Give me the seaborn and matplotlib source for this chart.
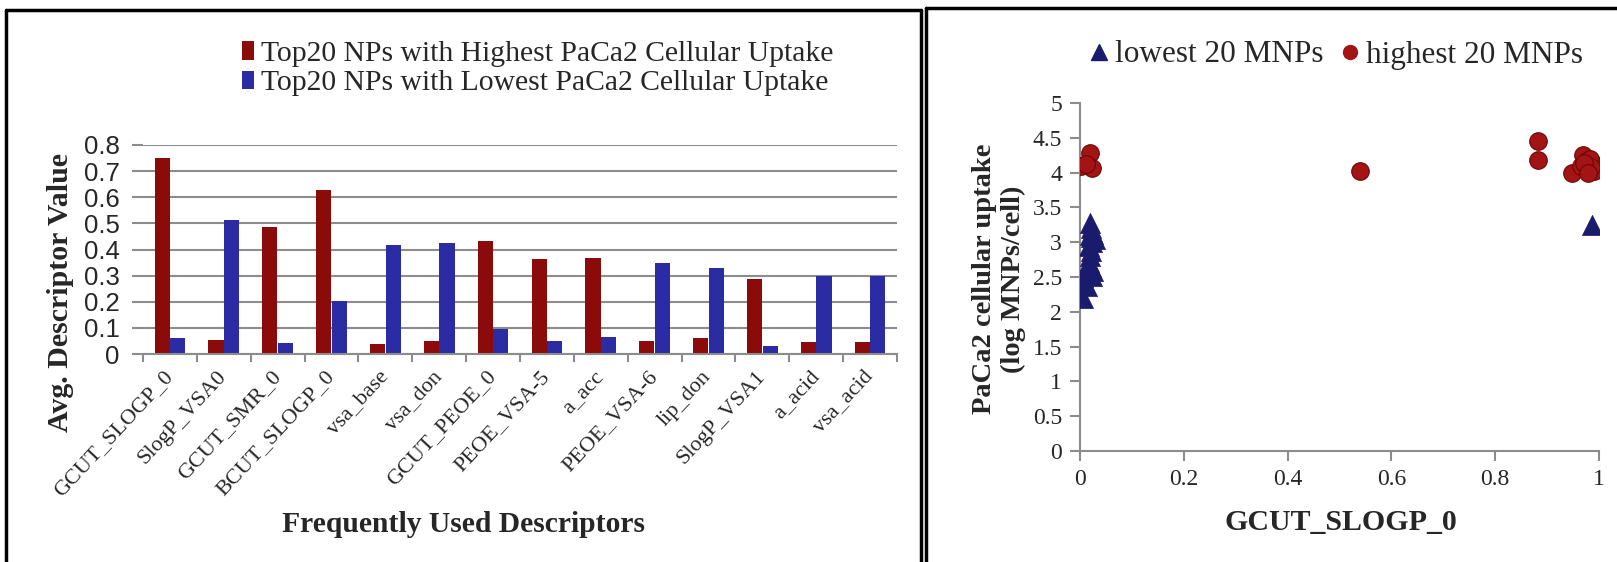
import numpy as np
import pandas as pd
import matplotlib
matplotlib.use("Agg")
import matplotlib.pyplot as plt
import seaborn as sns
from matplotlib.lines import Line2D
from matplotlib.patches import Patch
from matplotlib.ticker import FixedLocator

# ---------------- data ----------------
descriptors = ["GCUT_SLOGP_0", "SlogP_VSA0", "GCUT_SMR_0", "BCUT_SLOGP_0", "vsa_base",
               "vsa_don", "GCUT_PEOE_0", "PEOE_VSA-5", "a_acc", "PEOE_VSA-6",
               "lip_don", "SlogP_VSA1", "a_acid", "vsa_acid"]
highest_avg = [0.751, 0.055, 0.488, 0.629, 0.040, 0.049, 0.434, 0.363, 0.368, 0.049,
               0.061, 0.286, 0.045, 0.045]
lowest_avg = [0.062, 0.514, 0.042, 0.203, 0.419, 0.424, 0.096, 0.049, 0.064, 0.350,
              0.331, 0.032, 0.297, 0.297]
bar_series = ["Top20 NPs with Highest PaCa2 Cellular Uptake",
              "Top20 NPs with Lowest PaCa2 Cellular Uptake"]
bar_yticks = [0, 0.1, 0.2, 0.3, 0.4, 0.5, 0.6, 0.7, 0.8]
bar_yticklabels = ["0", "0.1", "0.2", "0.3", "0.4", "0.5", "0.6", "0.7", "0.8"]

scatter_series = ["lowest 20 MNPs", "highest 20 MNPs"]
low_x = [0.019, 0.021, 0.023, 0.025, 0.028, 0.020, 0.024, 0.022, 0.020, 0.018,
         0.021, 0.026, 0.024, 0.006, 0.013, 0.003, 0.006, 0.986, 0.022, 0.017]
low_y = [3.28, 3.20, 3.15, 3.12, 3.05, 3.10, 3.00, 2.88, 2.80, 2.72,
         2.65, 2.58, 2.52, 2.50, 2.37, 2.45, 2.20, 3.24, 3.08, 2.95]
high_x = [0.002, 0.019, 0.023, 0.012, 0.540, 0.883, 0.883, 0.948, 0.970, 0.995,
          0.980, 0.977, 0.986, 0.975, 0.982, 0.990, 0.965, 0.985, 0.972, 0.978]
high_y = [4.10, 4.28, 4.06, 4.12, 4.03, 4.45, 4.18, 3.99, 4.25, 4.11,
          4.06, 4.16, 4.13, 4.05, 4.20, 4.02, 4.10, 4.08, 4.14, 4.00]
sc_xticks = [0, 0.2, 0.4, 0.6, 0.8, 1.0]
sc_xticklabels = ["0", "0.2", "0.4", "0.6", "0.8", "1"]
sc_yticks = [0, 0.5, 1, 1.5, 2, 2.5, 3, 3.5, 4, 4.5, 5]
sc_yticklabels = ["0", "0.5", "1", "1.5", "2", "2.5", "3", "3.5", "4", "4.5", "5"]

# ---------------- style ----------------
RED = "#8B0A0A"
BLUE = "#2B2BA3"
NAVY = "#1B1B6E"
CRED = "#A31414"
GRAY = "#8C8C8C"
SERIF = "Liberation Serif"
SANS = "Liberation Sans"

sns.set_theme(style="white")
plt.rcParams["font.family"] = [SERIF, "DejaVu Serif"]

W, H = 1617, 562
fig = plt.figure(figsize=(W / 100, H / 100), dpi=100)


def fx(px):
    return px / W


def fy(py):
    return 1 - py / H


# ---------------- left: bar chart ----------------
axL = fig.add_axes([fx(143), fy(354), fx(897) - fx(143), fy(145) - fy(354)])
df = pd.DataFrame({
    "descriptor": descriptors * 2,
    "value": highest_avg + lowest_avg,
    "group": [bar_series[0]] * len(descriptors) + [bar_series[1]] * len(descriptors),
})
sns.barplot(data=df, x="descriptor", y="value", hue="group", hue_order=bar_series,
            palette=[RED, BLUE], saturation=1, width=0.58, gap=0.03,
            legend=False, ax=axL, errorbar=None, edgecolor="none")
axL.set_xlim(-0.5, len(descriptors) - 0.5)
axL.set_ylim(0, 0.8)
axL.set_yticks(bar_yticks)
axL.set_yticklabels(bar_yticklabels)
axL.tick_params(axis="y", labelsize=18.5, labelfontfamily=SANS)
axL.yaxis.grid(True, color=GRAY, lw=1.5)
axL.set_axisbelow(True)
for s in ["top", "right", "left"]:
    axL.spines[s].set_visible(False)
axL.spines["bottom"].set_color(GRAY)
axL.spines["bottom"].set_linewidth(1.5)
axL.tick_params(axis="y", length=8, width=1.5, color=GRAY, pad=9, left=True)
axL.set_xticks(range(len(descriptors)))
axL.set_xticklabels(descriptors, rotation=47, ha="right", va="center",
                    rotation_mode="anchor")
axL.tick_params(axis="x", which="major", length=0, pad=14, labelsize=16,
                labelfontfamily=SERIF)
axL.xaxis.set_minor_locator(FixedLocator(np.arange(-0.5, len(descriptors), 1.0)))
axL.tick_params(axis="x", which="minor", length=6, width=1.5, color=GRAY, bottom=True)
axL.set_xlabel("")
axL.set_ylabel("")

fig.text(fx(61), fy(292), "Avg. Descriptor Value", rotation=90, ha="center", va="center",
         fontsize=21.5, fontweight="bold", fontfamily=SERIF)
fig.text(fx(463), fy(524), "Frequently Used Descriptors", ha="center", va="center",
         fontsize=21.3, fontweight="bold", fontfamily=SERIF)

handlesL = [Patch(facecolor=RED, edgecolor="none"), Patch(facecolor=BLUE, edgecolor="none")]
fig.legend(handlesL, bar_series, loc="upper left", bbox_to_anchor=(fx(230), fy(29)),
           frameon=False, prop={"family": SERIF, "size": 21.3}, handlelength=0.4,
           handleheight=0.6, handletextpad=0.25, labelspacing=0.12, borderaxespad=0)

# ---------------- right: scatter ----------------
axR = fig.add_axes([fx(1080), fy(451), fx(1599) - fx(1080), fy(103) - fy(451)])
df2 = pd.DataFrame({
    "x": low_x + high_x,
    "y": low_y + high_y,
    "group": [scatter_series[0]] * len(low_x) + [scatter_series[1]] * len(high_x),
})
sns.scatterplot(data=df2[df2.group == scatter_series[1]], x="x", y="y", color=CRED,
                marker="o", s=160, edgecolor="#6E0505", linewidth=0.8, ax=axR, legend=False,
                zorder=3)
sns.scatterplot(data=df2[df2.group == scatter_series[0]], x="x", y="y", color=NAVY,
                marker="^", s=210, edgecolor=NAVY, linewidth=0.5, ax=axR, legend=False,
                zorder=3)
axR.set_xlim(0, 1)
axR.set_ylim(0, 5)
axR.set_xticks(sc_xticks)
axR.set_xticklabels(sc_xticklabels)
axR.set_yticks(sc_yticks)
axR.set_yticklabels(sc_yticklabels)
for s in ["top", "right"]:
    axR.spines[s].set_visible(False)
for s in ["left", "bottom"]:
    axR.spines[s].set_color(GRAY)
    axR.spines[s].set_linewidth(1.5)
axR.tick_params(axis="both", length=7, width=1.5, color=GRAY, pad=6, bottom=True, left=True,
                labelsize=17, labelfontfamily=SERIF)
axR.set_xlabel("")
axR.set_ylabel("")
axR.grid(False)

fig.text(fx(999), fy(279), "PaCa2 cellular uptake\n(log MNPs/cell)", rotation=90,
         ha="center", va="center", fontsize=20.5, fontweight="bold", fontfamily=SERIF,
         linespacing=1.2, multialignment="center")
fig.text(fx(1341), fy(523), "GCUT_SLOGP_0", ha="center", va="center",
         fontsize=21.5, fontweight="bold", fontfamily=SERIF)

handlesR = [Line2D([], [], ls="none", marker="^", color=NAVY, markersize=11),
            Line2D([], [], ls="none", marker="o", color=CRED, markersize=10)]
fig.legend(handlesR, scatter_series, loc="center left", bbox_to_anchor=(fx(1090), fy(55)),
           ncol=2, frameon=False, prop={"family": SERIF, "size": 22.5}, handlelength=0.6,
           handletextpad=0.2, columnspacing=0.55, borderaxespad=0, borderpad=0)

# ---------------- panel borders ----------------
lw = 2.5
for (x0, y0, x1, y1) in [(6, 10, 6, 562), (6, 10, 921, 10), (921, 10, 921, 562),
                         (926, 8, 926, 562), (926, 8, 1617, 8)]:
    fig.add_artist(Line2D([fx(x0), fx(x1)], [fy(y0), fy(y1)], transform=fig.transFigure,
                          color="black", lw=lw))

fig.savefig("out.png", dpi=100)
